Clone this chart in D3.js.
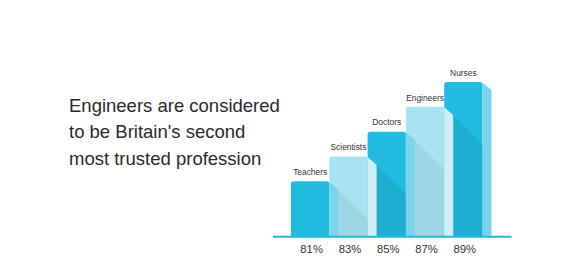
<!DOCTYPE html>
<html>
<head>
<meta charset="utf-8">
<script src="https://cdn.jsdelivr.net/npm/d3@7"></script>
<style>
  html, body { margin: 0; padding: 0; background: #ffffff; }
  svg { display: block; }
</style>
</head>
<body>
<script>
const categories = ["Teachers", "Scientists", "Doctors", "Engineers", "Nurses"];
const values = [81, 83, 85, 87, 89];
const tickLabels = ["81%", "83%", "85%", "87%", "89%"];
const titleLines = ["Engineers are considered", "to be Britain's second", "most trusted profession"];

const W = 580, H = 280;
const baseY = 236;
const sideW = 9, sideDrop = 8.5, r = 2.5;

const svg = d3.select("body").append("svg").attr("width", W).attr("height", H);

const x = d3.scaleBand().domain(categories).range([291, 482.5]).paddingInner(0).paddingOuter(0);
const y = d3.scaleLinear().domain([76.6, 89]).range([baseY, 82]);

const pal = {
  dark:  { front: "#21bbe0", shade: "#1eaed3", side: "#7cd3ec" },
  light: { front: "#a9e3f3", shade: "#a0d5e5", side: "#d1eff8" }
};
const styleOf = i => (i % 2 === 0 ? pal.dark : pal.light);

// title
const title = svg.append("text")
  .attr("x", 69).attr("y", 112)
  .attr("font-family", "Liberation Sans, Arial, sans-serif")
  .attr("font-size", 18.5)
  .attr("fill", "#2a2a2a");
title.selectAll("tspan").data(titleLines).join("tspan")
  .attr("x", 69)
  .attr("dy", (d, i) => i === 0 ? 0 : 26.3)
  .text(d => d);

const bw = x.bandwidth();
const data = categories.map((c, i) => ({ c, v: values[i], i }));

// fronts
const g = svg.append("g");
data.forEach(d => {
  const x0 = x(d.c), x1 = x0 + bw, top = y(d.v);
  const st = styleOf(d.i);
  const p = d3.path();
  p.moveTo(x0, baseY);
  p.lineTo(x0, top + r);
  p.quadraticCurveTo(x0, top, x0 + r, top);
  p.lineTo(x1 - r, top);
  p.quadraticCurveTo(x1, top, x1, top + r);
  p.lineTo(x1, baseY);
  p.closePath();
  g.append("path").attr("d", p.toString()).attr("fill", st.front);
  // diagonal shadow cast by previous bar
  if (d.i > 0) {
    const prevTop = y(data[d.i - 1].v);
    const sx = x0 + sideW, sy = prevTop + sideDrop;
    const ey = sy + (x1 - sx);
    g.append("path")
      .attr("d", d3.line()([[sx, sy], [x1, ey], [x1, baseY], [sx, baseY]]) + "Z")
      .attr("fill", st.shade);
  }
});

// side faces
data.forEach(d => {
  const x1 = x(d.c) + bw, top = y(d.v);
  const st = styleOf(d.i);
  const p = d3.path();
  p.moveTo(x1, top + 0.5);
  p.lineTo(x1 + sideW - 1, top + sideDrop - 1);
  p.quadraticCurveTo(x1 + sideW, top + sideDrop, x1 + sideW, top + sideDrop + 1.5);
  p.lineTo(x1 + sideW, baseY);
  p.lineTo(x1, baseY);
  p.closePath();
  g.append("path").attr("d", p.toString()).attr("fill", st.side);
});

// bar labels
svg.append("g").selectAll("text").data(data).join("text")
  .attr("x", d => x(d.c) + bw / 2)
  .attr("y", d => y(d.v) - 6.3)
  .attr("text-anchor", "middle")
  .attr("font-family", "Liberation Sans, Arial, sans-serif")
  .attr("font-size", 8.4)
  .attr("fill", "#333333")
  .text(d => d.c);

// baseline
svg.append("line")
  .attr("x1", 273).attr("x2", 511.5)
  .attr("y1", baseY + 0.8).attr("y2", baseY + 0.8)
  .attr("stroke", "#25b6dc").attr("stroke-width", 2);

// percentage tick labels
const axis = d3.axisBottom(x).tickSize(0).tickPadding(0).tickFormat((d, i) => tickLabels[i]);
const ax = svg.append("g").attr("transform", `translate(1.5, ${baseY + 8.5})`).call(axis);
ax.select(".domain").remove();
ax.selectAll("text")
  .attr("dy", "0.71em")
  .attr("font-family", "Liberation Sans, Arial, sans-serif")
  .attr("font-size", 11.3)
  .attr("fill", "#333333");
</script>
</body>
</html>
